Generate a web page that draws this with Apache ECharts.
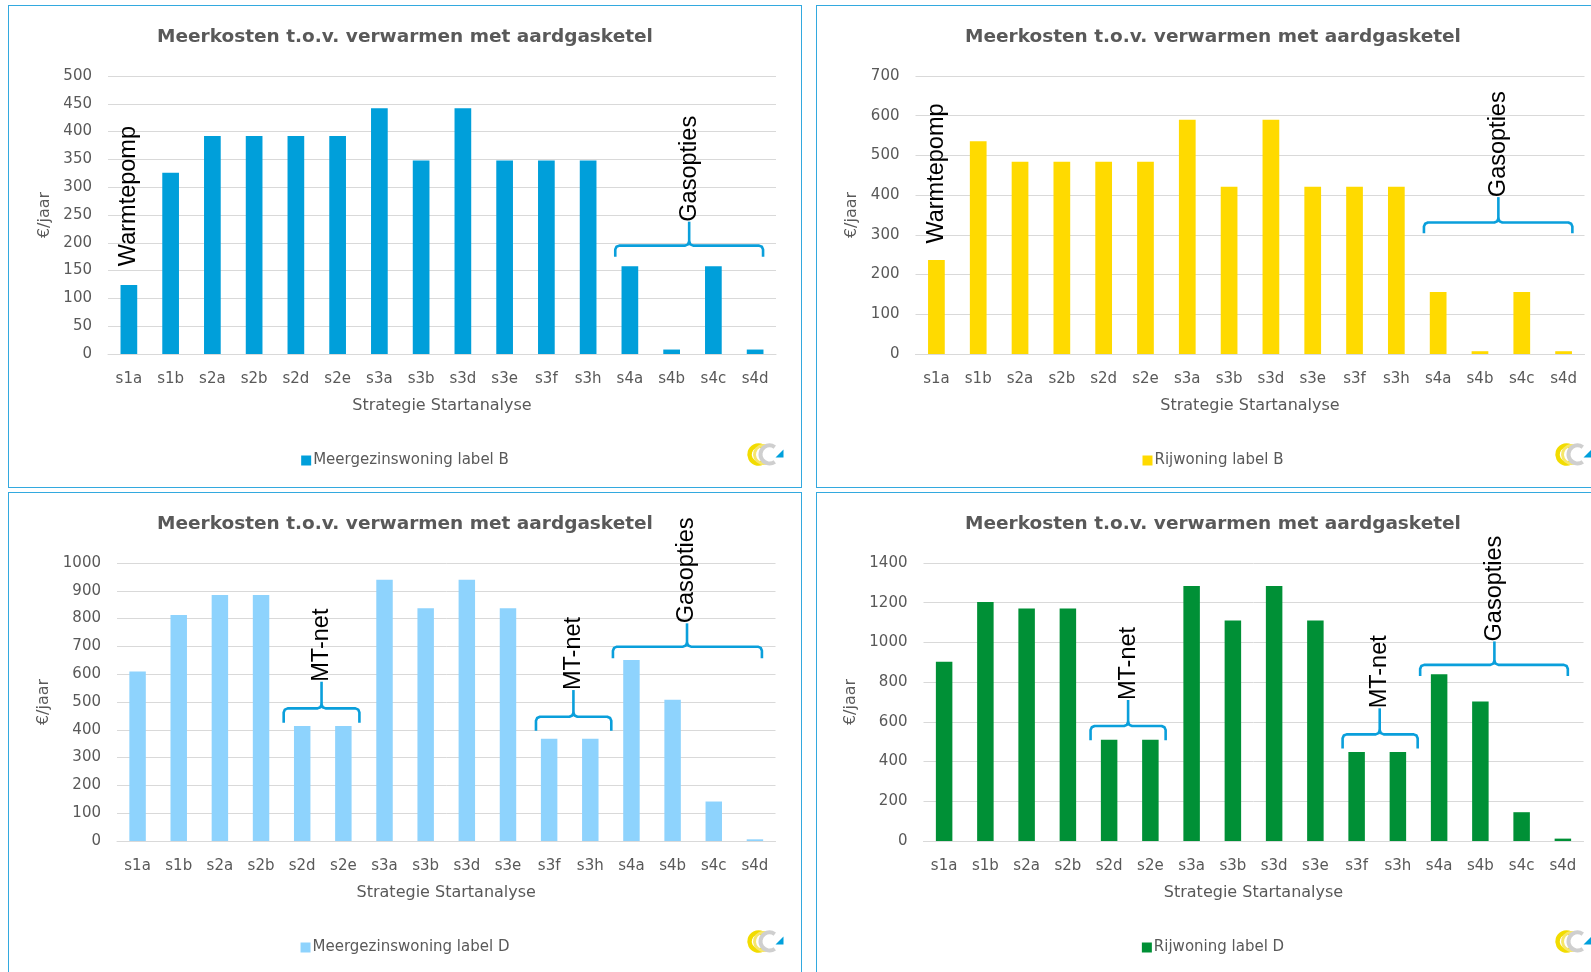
<!DOCTYPE html>
<html>
<head>
<meta charset="utf-8">
<title>Meerkosten t.o.v. verwarmen met aardgasketel</title>
<script src="https://cdn.jsdelivr.net/npm/echarts@6/dist/echarts.min.js"></script>
<style>
html, body { margin: 0; padding: 0; background: #fff; overflow: hidden; width: 1591px; height: 972px; }
.panel { position: absolute; width: 794px; height: 483px; border: 1.5px solid #33A9DF; box-sizing: border-box; background: #fff; }
</style>
</head>
<body>
<div class="panel" id="p1" style="left:8px;top:5px"></div>
<div class="panel" id="p2" style="left:816px;top:5px"></div>
<div class="panel" id="p3" style="left:8px;top:492px;height:500px"></div>
<div class="panel" id="p4" style="left:816px;top:492px;height:500px"></div>
<script>
var categories = ['s1a', 's1b', 's2a', 's2b', 's2d', 's2e', 's3a', 's3b', 's3d', 's3e', 's3f', 's3h', 's4a', 's4b', 's4c', 's4d'];

// €/jaar per strategie
var meergezinsB = [124, 326, 392, 392, 392, 392, 442, 348, 442, 348, 348, 348, 158, 8, 158, 8];
var rijwoningB = [237, 536, 484, 484, 484, 484, 590, 421, 590, 421, 421, 421, 156, 7, 156, 7];
var meergezinsD = [610, 813, 885, 885, 414, 414, 940, 837, 940, 837, 368, 368, 651, 508, 142, 6];
var rijwoningD = [903, 1203, 1171, 1171, 510, 510, 1284, 1110, 1284, 1110, 448, 448, 840, 702, 145, 12];

// y-as: [min, max, stap]
var axisMB = [0, 500, 50];
var axisRB = [0, 700, 100];
var axisMD = [0, 1000, 100];
var axisRD = [0, 1400, 200];

// annotaties in as-eenheden (x = categorie-index, waarden in €/jaar)
var notesMB = [
    { text: 'Warmtepomp', x: 0, top: 158 },
    { text: 'Gasopties', x: 13.42, top: 238, from: 11.65, to: 15.19, y: 195, foot: 175 }
];
var notesRB = [
    { text: 'Warmtepomp', x: 0, top: 278 },
    { text: 'Gasopties', x: 13.44, top: 395, from: 11.66, to: 15.21, y: 331, foot: 304 }
];
var notesMD = [
    { text: 'MT-net', x: 4.47, top: 573, from: 3.55, to: 5.39, y: 477, foot: 425 },
    { text: 'MT-net', x: 10.59, top: 543, from: 9.68, to: 11.51, y: 447, foot: 397 },
    { text: 'Gasopties', x: 13.35, top: 783, from: 11.55, to: 15.17, y: 699, foot: 657 }
];
var notesRD = [
    { text: 'MT-net', x: 4.46, top: 710, from: 3.55, to: 5.37, y: 579, foot: 508 },
    { text: 'MT-net', x: 10.56, top: 668, from: 9.66, to: 11.48, y: 537, foot: 466 },
    { text: 'Gasopties', x: 13.34, top: 1005, from: 11.54, to: 15.12, y: 887, foot: 831 }
];

var GRAY = '#595959';
var FONT = 'DejaVu Sans';
var BRACE = '#0A9FDB';

function renderNote(notes) {
    return function (params, api) {
        var n = notes[params.dataIndex];
        var bw = api.size([1, 0])[0];
        function pt(x, v) {
            var i = Math.round(x);
            var c = api.coord([i, v]);
            return [c[0] + (x - i) * bw, c[1]];
        }
        var children = [];
        var top = pt(n.x, n.top);
        if (n.from !== undefined) {
            var a = pt(n.from, n.foot);
            var b = pt(n.to, n.foot);
            var y = pt(n.x, n.y)[1];
            var m = top[0];
            var r = 4, k = 1.2;
            var pts = [
                [a[0], a[1]], [a[0], y + r], [a[0] + k, y + k], [a[0] + r, y],
                [m - r, y], [m - k, y - k], [m, y - r],
                [m + k, y - k], [m + r, y],
                [b[0] - r, y], [b[0] - k, y + k], [b[0], y + r], [b[0], b[1]]
            ];
            children.push({
                type: 'polyline',
                shape: { points: pts },
                style: { fill: null, stroke: BRACE, lineWidth: 2.6, lineJoin: 'round' }
            });
            children.push({
                type: 'line',
                shape: { x1: m, y1: y - r, x2: m, y2: top[1] },
                style: { stroke: BRACE, lineWidth: 2.6 }
            });
        }
        children.push({
            type: 'text',
            x: top[0],
            y: top[1],
            rotation: Math.PI / 2,
            style: {
                text: n.text,
                fill: '#000',
                fontSize: 23.5,
                fontFamily: 'Liberation Sans',
                align: 'left',
                verticalAlign: 'middle'
            }
        });
        return { type: 'group', children: children };
    };
}

function logo() {
    return {
        type: 'group',
        left: 738,
        top: 437,
        silent: true,
        children: [
            { type: 'arc', shape: { cx: 10, cy: 13, r: 9, startAngle: Math.PI * 0.35, endAngle: Math.PI * 1.65 },
              style: { stroke: '#F2DC00', lineWidth: 4.5, fill: null } },
            { type: 'arc', shape: { cx: 15, cy: 13, r: 9, startAngle: Math.PI * 0.35, endAngle: Math.PI * 1.65 },
              style: { stroke: '#F6E66A', lineWidth: 3, fill: null } },
            { type: 'arc', shape: { cx: 21, cy: 13, r: 9, startAngle: Math.PI * 0.3, endAngle: Math.PI * 1.7 },
              style: { stroke: '#CFCFCF', lineWidth: 4, fill: null } },
            { type: 'polygon', shape: { points: [[35, 8], [35, 16], [27, 16]] },
              style: { fill: '#00A0DC' } }
        ]
    };
}

function plot(id, name, color, values, axis, notes, gridLeft, gridWidth) {
    var chart = echarts.init(document.getElementById(id));
    var option = {
        animation: false,
        title: {
            text: 'Meerkosten t.o.v. verwarmen met aardgasketel',
            left: 'center',
            top: 22,
            padding: 0,
            textStyle: { color: GRAY, fontFamily: FONT, fontSize: 18.5, fontWeight: 'bold' }
        },
        legend: {
            data: [name],
            left: 'center',
            top: 447,
            padding: 0,
            icon: 'rect',
            itemWidth: 10,
            itemHeight: 10,
            textStyle: { color: GRAY, fontFamily: FONT, fontSize: 15, padding: [0, 0, 0, -3] }
        },
        grid: { left: gridLeft, top: 70, width: gridWidth, height: 278 },
        xAxis: {
            type: 'category',
            data: categories,
            name: 'Strategie Startanalyse',
            nameLocation: 'middle',
            nameGap: 44,
            nameTextStyle: { color: GRAY, fontFamily: FONT, fontSize: 16 },
            axisLine: { lineStyle: { color: '#D9D9D9', width: 1 } },
            axisTick: { show: false },
            axisLabel: { color: GRAY, fontFamily: FONT, fontSize: 15, margin: 18 }
        },
        yAxis: {
            type: 'value',
            min: axis[0],
            max: axis[1],
            interval: axis[2],
            name: '€/jaar',
            nameLocation: 'middle',
            nameGap: gridLeft - 49,
            nameTextStyle: { color: GRAY, fontFamily: FONT, fontSize: 16 },
            axisLine: { show: false },
            axisTick: { show: false },
            splitLine: { lineStyle: { color: '#D9D9D9', width: 1 } },
            axisLabel: {
                color: GRAY, fontFamily: FONT, fontSize: 15, margin: 16,
                formatter: function (v) { return String(v); }
            }
        },
        graphic: [logo()],
        series: [{
            name: name,
            type: 'bar',
            data: values,
            barWidth: '40%',
            itemStyle: { color: color }
        }, {
            name: 'notes',
            type: 'custom',
            clip: false,
            silent: true,
            z: 5,
            data: notes.map(function (n) { return [Math.round(n.x), n.top]; }),
            renderItem: renderNote(notes)
        }]
    };
    chart.setOption(option);
}

plot('p1', 'Meergezinswoning label B', '#009FDA', meergezinsB, axisMB, notesMB, 99, 668);
plot('p2', 'Rijwoning label B', '#FFDA00', rijwoningB, axisRB, notesRB, 98.5, 669);
plot('p3', 'Meergezinswoning label D', '#8ED3FD', meergezinsD, axisMD, notesMD, 108, 658.5);
plot('p4', 'Rijwoning label D', '#009036', rijwoningD, axisRD, notesRD, 106.5, 660);
</script>
</body>
</html>
